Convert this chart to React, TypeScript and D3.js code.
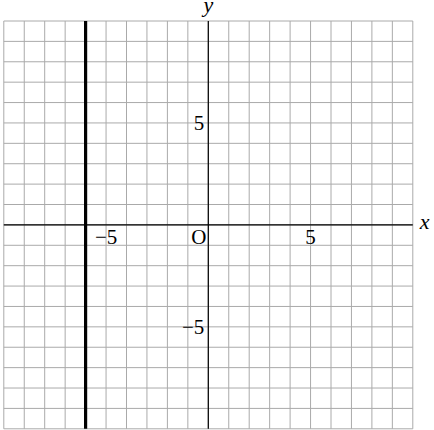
import * as d3 from "d3";
import {useEffect, useRef} from "react";

// 座標平面の範囲
const xDomain: [number, number] = [-10, 10];
const yDomain: [number, number] = [-10, 10];
const gridStep = 1;
// 目盛ラベル
const xTickLabels = [-5, 5];
const yTickLabels = [5, -5];
// 縦の直線 x = -6
const verticalLines = [-6];

const App = () => {
  const width = 434;
  const height = 430;
  const svgRef = useRef<SVGSVGElement>(null!);

  useEffect(() => {
    const svg = d3.select(svgRef.current);
    svg.selectAll("*").remove();

    const x = d3.scaleLinear().domain(xDomain).range([3.8, 412.8]);
    const y = d3.scaleLinear().domain(yDomain).range([428.8, 21]);

    const font = "'Liberation Serif', 'DejaVu Serif', serif";

    // 方眼
    const grid = svg.append("g").attr("stroke", "#aaaaaa").attr("stroke-width", 1);
    const gx = d3.range(xDomain[0], xDomain[1] + gridStep / 2, gridStep);
    const gy = d3.range(yDomain[0], yDomain[1] + gridStep / 2, gridStep);
    grid.selectAll(".vx").data(gx).enter().append("line")
      .attr("x1", d => x(d)).attr("x2", d => x(d))
      .attr("y1", y(yDomain[0])).attr("y2", y(yDomain[1]));
    grid.selectAll(".hy").data(gy).enter().append("line")
      .attr("y1", d => y(d)).attr("y2", d => y(d))
      .attr("x1", x(xDomain[0])).attr("x2", x(xDomain[1]));

    // 軸
    svg.append("line")
      .attr("x1", x(xDomain[0])).attr("x2", x(xDomain[1]))
      .attr("y1", y(0)).attr("y2", y(0))
      .attr("stroke", "#000").attr("stroke-width", 1.2);
    svg.append("line")
      .attr("x1", x(0)).attr("x2", x(0))
      .attr("y1", y(yDomain[0])).attr("y2", y(yDomain[1]))
      .attr("stroke", "#000").attr("stroke-width", 1.2);

    // 直線 x = -6
    svg.selectAll(".vline").data(verticalLines).enter().append("line")
      .attr("x1", d => x(d)).attr("x2", d => x(d))
      .attr("y1", y(yDomain[0])).attr("y2", y(yDomain[1]))
      .attr("stroke", "#000").attr("stroke-width", 3.2);

    // ラベル
    svg.selectAll(".xl").data(xTickLabels).enter().append("text")
      .attr("x", d => x(d))
      .attr("y", y(0) + 19.5)
      .attr("text-anchor", "middle")
      .attr("font-family", font)
      .attr("font-size", 21)
      .text(d => (d < 0 ? "\u2212" : "") + Math.abs(d));
    svg.selectAll(".yl").data(yTickLabels).enter().append("text")
      .attr("x", x(0) - 4)
      .attr("y", d => y(d) + 7)
      .attr("text-anchor", "end")
      .attr("font-family", font)
      .attr("font-size", 21)
      .text(d => (d < 0 ? "\u2212" : "") + Math.abs(d));
    svg.append("text")
      .attr("x", x(0) - 2)
      .attr("y", y(0) + 19.5)
      .attr("text-anchor", "end")
      .attr("font-family", font)
      .attr("font-size", 21)
      .text("O");

    // 軸名
    svg.append("text")
      .attr("x", x(xDomain[1]) + 7)
      .attr("y", y(0) + 4)
      .attr("font-family", font)
      .attr("font-style", "italic")
      .attr("font-size", 22)
      .text("x");
    svg.append("text")
      .attr("x", x(0))
      .attr("y", 12)
      .attr("text-anchor", "middle")
      .attr("font-family", font)
      .attr("font-style", "italic")
      .attr("font-size", 22)
      .text("y");
  }, []);

  return (
    <svg width={width} height={height} ref={svgRef}
         style={{position: "absolute", left: 0, top: 0, background: "#fff"}}/>
  );
};

export default App;
